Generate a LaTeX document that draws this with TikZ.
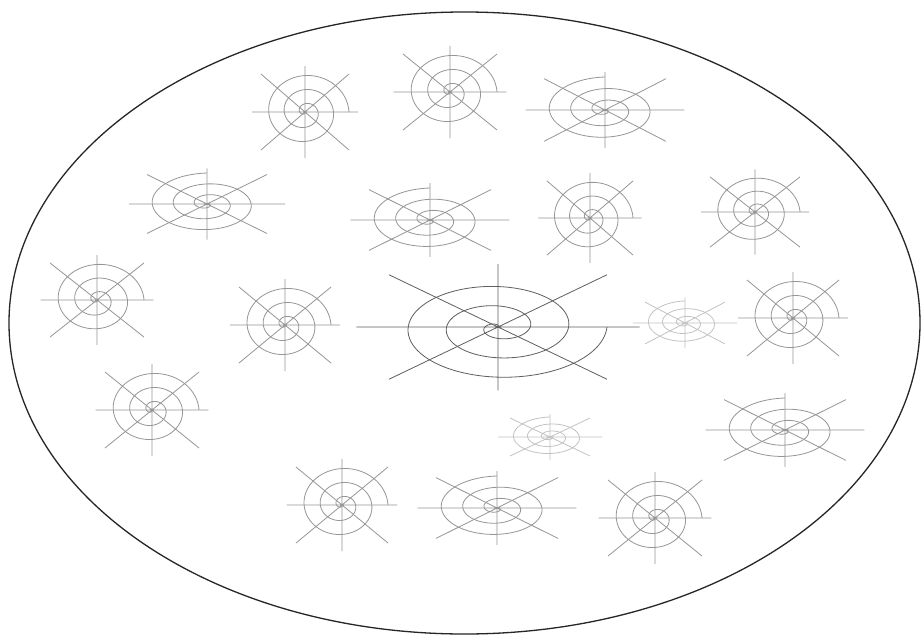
\documentclass[tikz,border=0pt]{standalone}
\definecolor{webmain}{RGB}{95,95,95}
\definecolor{webgray}{RGB}{150,150,150}
\definecolor{webfaint}{RGB}{195,195,195}
\newcommand\web[8]{%
\begin{scope}[shift={(#1,#2)},xscale=#3,yscale=#4,draw=#7,line width=0.8pt]
\draw plot[domain=0:1022,samples=260,smooth,variable=\t]
  ({(\t/1022)*cos(#5-(#6)*(1022-\t))},{(\t/1022)*sin(#5-(#6)*(1022-\t))});
\draw (-#8,0)--(#8,0) (0,-1.15)--(0,1.15) (-1,-0.95)--(1,0.95) (-1,0.95)--(1,-0.95);
\end{scope}}
\begin{document}
\begin{tikzpicture}[x=1pt,y=-1pt]
\useasboundingbox (0,0) rectangle (921,637);
\fill[white] (0,0) rectangle (921,637);
\draw[line width=1.3pt,black!85] (464.5,323) ellipse [x radius=455.5, y radius=311];
% circular webs (spiral ends upper right)
\web{305}{112}{44}{40}{0}{1}{webgray}{1.2}
\web{450}{92}{47}{40}{0}{1}{webgray}{1.2}
\web{590}{218}{43}{39}{0}{1}{webgray}{1.2}
\web{755}{212}{45}{37}{0}{1}{webgray}{1.2}
\web{97}{300}{47}{39}{0}{1}{webgray}{1.2}
\web{285}{325}{46}{40}{0}{1}{webgray}{1.2}
\web{793}{318}{46}{40}{0}{1}{webgray}{1.2}
\web{152}{410}{47}{40}{0}{1}{webgray}{1.2}
\web{342}{505}{46}{40}{0}{1}{webgray}{1.2}
\web{655}{518}{47}{40}{0}{1}{webgray}{1.2}
% elliptical webs
\web{605}{110}{61}{33}{-90}{1}{webgray}{1.3}
\web{207}{204}{60}{31}{-90}{1}{webgray}{1.3}
\web{430}{220}{61}{32}{-90}{1}{webgray}{1.3}
\web{785}{430}{61}{32}{-90}{1}{webgray}{1.3}
\web{497}{508}{61}{32}{-90}{1}{webgray}{1.3}
% faint small webs
\web{685}{323}{40}{22}{-90}{1}{webfaint}{1.3}
\web{550}{437}{40}{20}{-90}{1}{webfaint}{1.3}
% central web
\web{498}{327}{109}{55}{0}{-1}{webmain}{1.3}
\end{tikzpicture}
\end{document}
